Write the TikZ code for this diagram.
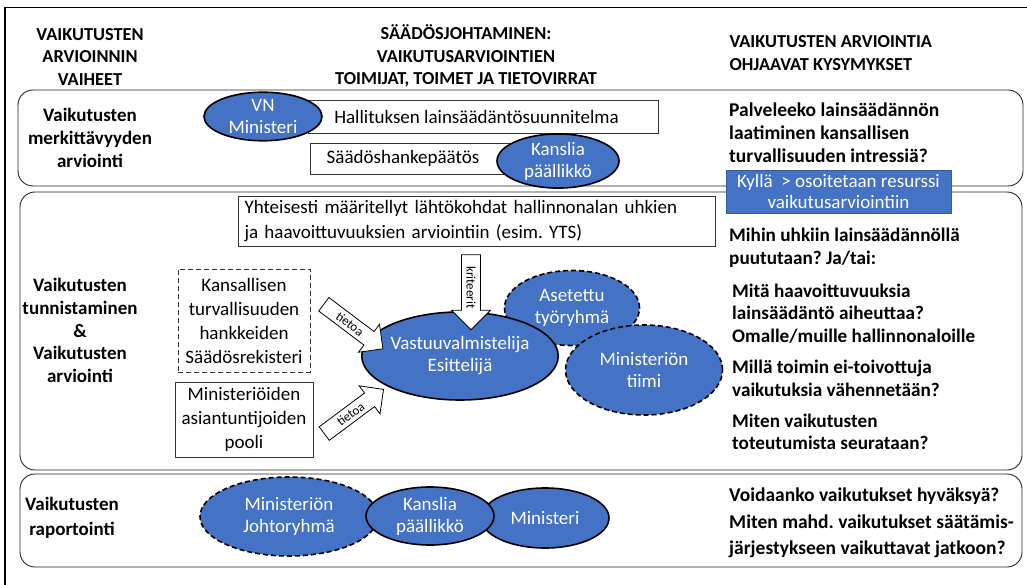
\documentclass[tikz,border=0pt]{standalone}
\usepackage{fontspec}
\setmainfont{Carlito}
\usetikzlibrary{shapes.geometric,shapes.arrows}
\definecolor{vblue}{HTML}{4472C4}
\frenchspacing
\begin{document}
\begin{tikzpicture}[x=1pt,y=-1pt,
 rowbox/.style={draw=black!85, line width=0.9pt, rounded corners=15pt},
 hdr/.style={font=\bfseries\fontsize{18.3}{22.5}\selectfont, align=center},
 stage/.style={font=\bfseries\fontsize{19}{22.7}\selectfont, align=center},
 qtext/.style={font=\bfseries\fontsize{19.2}{22.5}\selectfont, align=left, anchor=west, inner sep=0pt},
 qbig/.style={font=\bfseries\fontsize{19.5}{23}\selectfont, align=left, anchor=west, inner sep=0pt},
 actor/.style={ellipse, fill=vblue, draw=black, line width=1.6pt, text=white, inner sep=0pt, align=center, font=\fontsize{19}{22}\selectfont},
 dactor/.style={actor, dash pattern=on 5pt off 3pt},
 plainbox/.style={draw=black!80, line width=0.8pt, fill=white, inner sep=0pt, font=\fontsize{19}{24}\selectfont, align=center},
 hollow/.style={single arrow, draw=black, fill=white, line width=0.8pt, single arrow head extend=9pt, inner xsep=1pt, inner ysep=3.5pt, font=\fontsize{13}{13}\selectfont, minimum height=74pt},
]
\useasboundingbox (0,0) rectangle (1027,585);
% outer frame
\draw[line width=1.5pt] (5,585) -- (5,7.5) -- (1027,7.5);
% headers
\node[hdr] (h1) at (90,57) {VAIKUTUSTEN\\ARVIOINNIN\\VAIHEET};
\node[hdr] (h2) at (466,56) {SÄÄDÖSJOHTAMINEN:\\VAIKUTUSARVIOINTIEN\\TOIMIJAT, TOIMET JA TIETOVIRRAT};
\node[hdr, align=left, anchor=west] (h3) at (726,53) {VAIKUTUSTEN ARVIOINTIA\\OHJAAVAT KYSYMYKSET};
% row boxes
\draw[rowbox] (18,90) rectangle (1023,186);
\draw[rowbox] (20,192) rectangle (1022,470);
\draw[rowbox] (20,474) rectangle (1022,567);
% row 1
\node[stage] (s1) at (90,138) {Vaikutusten\\merkittävyyden\\arviointi};
\node[plainbox, minimum width=350pt, minimum height=33pt] (plan) at (483,116.5) {Hallituksen lainsäädäntösuunnitelma\hspace*{13pt}};
\node[actor, minimum width=118pt, minimum height=47pt] (vn) at (263,116.5) {VN\\Ministeri};
\node[plainbox, minimum width=202pt, minimum height=31pt] (paat) at (411,158.5) {Säädöshankepäätös\hspace*{16pt}};
\node[actor, minimum width=122pt, minimum height=44pt] (kp1) at (558,161) {Kanslia\\päällikkö};
\node[qbig] (q1) at (729,133) {Palveleeko lainsäädännön\\laatiminen kansallisen\\turvallisuuden intressiä?};
\node[draw=vblue!80!black, line width=0.6pt, fill=vblue, text=white, minimum width=225pt, minimum height=43pt, inner sep=0pt, align=center, font=\fontsize{19}{21}\selectfont] (kylla) at (838.5,191.5) {Kyllä\ \ > osoitetaan resurssi\\vaikutusarviointiin};
% row 2
\node[stage] (s2) at (80,330.5) {Vaikutusten\\tunnistaminen\\\&\\Vaikutusten\\arviointi};
\node[plainbox, minimum width=477pt, minimum height=50pt, text width=464pt, align=left, font=\fontsize{19}{25}\selectfont] (yht) at (476.5,221) {Yhteisesti määritellyt lähtökohdat hallinnonalan uhkien\\ja haavoittuvuuksien arviointiin (esim. YTS)};
\node[plainbox, dash pattern=on 5pt off 3pt, minimum width=132pt, minimum height=103pt] (rek) at (244,320.5) {Kansallisen\\turvallisuuden\\hankkeiden\\Säädösrekisteri};
\node[plainbox, minimum width=138pt, minimum height=75pt] (pool) at (244,419.5) {Ministeriöiden\\asiantuntijoiden\\pooli};
\node[dactor, minimum width=135pt, minimum height=75pt] (tyo) at (572,308) {Asetettu\\työryhmä};
\node[dactor, minimum width=157pt, minimum height=90pt] (tiimi) at (644,370) {Ministeriön\\tiimi};
\node[actor, minimum width=194pt, minimum height=88pt] (vast) at (460,356) {Vastuuvalmistelija\\Esittelijä};
\node[hollow, rotate=-90, minimum height=75pt, inner ysep=4.5pt, single arrow head extend=10pt] (krit) at (471,287.5) {kriteerit};
\node[hollow, rotate=-37] (ti1) at (350,324) {tietoa};
\node[hollow, rotate=36.7] (ti2) at (350.5,414) {tietoa};
\node[qtext] (q2) at (729,248) {Mihin uhkiin lainsäädännöllä\\puututaan? Ja/tai:};
\node[qtext] (q3) at (732,313.5) {Mitä haavoittuvuuksia\\lainsäädäntö aiheuttaa?\\Omalle/muille hallinnonaloille};
\node[qtext] (q4) at (732,378.5) {Millä toimin ei-toivottuja\\vaikutuksia vähennetään?};
\node[qtext] (q5) at (732,432) {Miten vaikutusten\\toteutumista seurataan?};
% row 3
\node[stage, font=\bfseries\fontsize{19}{25}\selectfont] (s3) at (72,517.5) {Vaikutusten\\raportointi};
\node[dactor, minimum width=178pt, minimum height=79pt] (johto) at (289,516.5) {Ministeriön\\Johtoryhmä};
\node[actor, minimum width=128pt, minimum height=60pt] (minr) at (545,518) {Ministeri};
\node[actor, minimum width=128pt, minimum height=58pt] (kp2) at (430,516) {Kanslia\\päällikkö};
\node[qbig] (q6) at (729,496) {Voidaanko vaikutukset hyväksyä?};
\node[qbig, font=\bfseries\fontsize{19.5}{26}\selectfont] (q7) at (729,536) {Miten mahd. vaikutukset säätämis-\\järjestykseen vaikuttavat jatkoon?};
\end{tikzpicture}
\end{document}
